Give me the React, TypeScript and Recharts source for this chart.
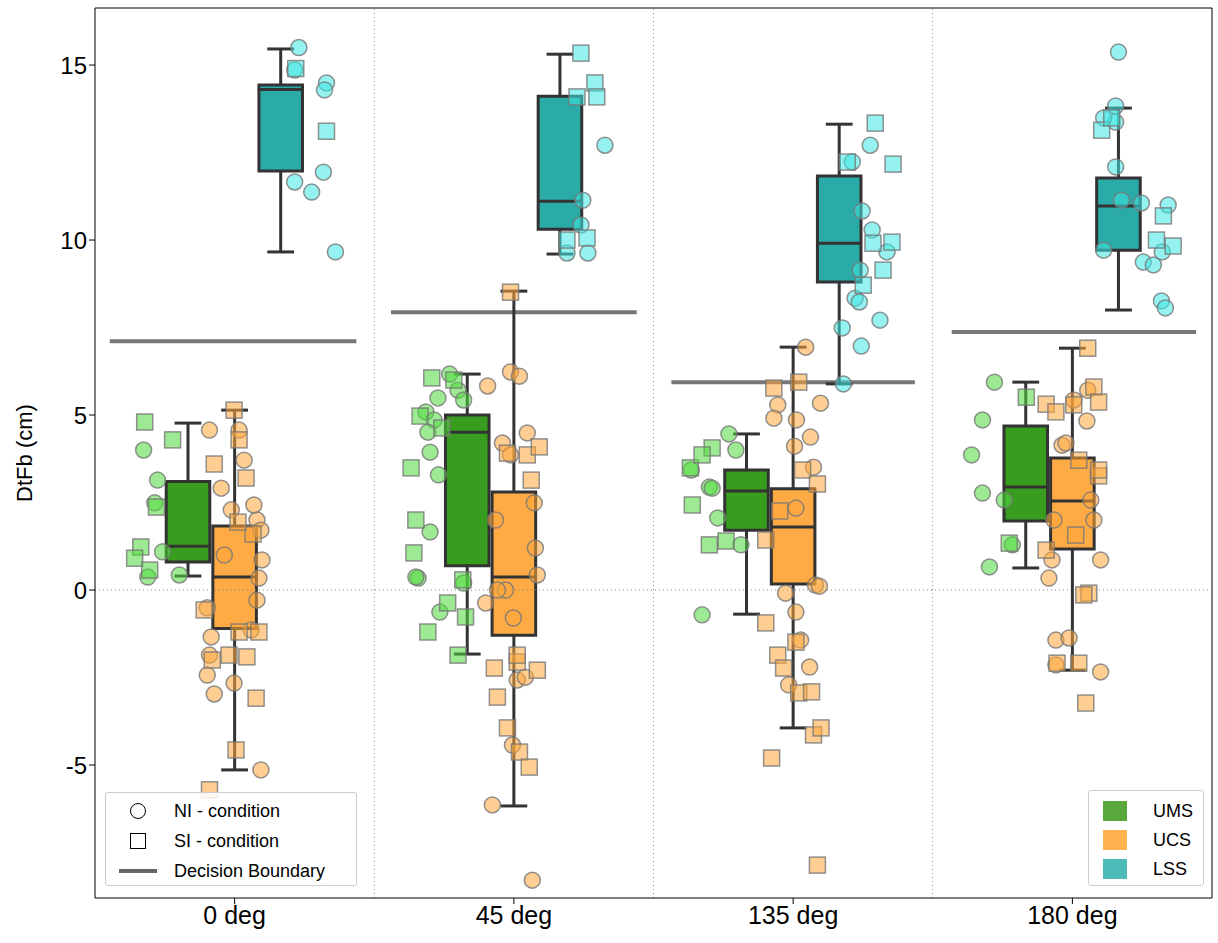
import React from "react";
import {
  ComposedChart,
  Scatter,
  XAxis,
  YAxis,
  ReferenceArea,
  ReferenceLine,
} from "recharts";

const CATEGORIES = ["0 deg", "45 deg", "135 deg", "180 deg"];
const Y_TICKS = [-5, 0, 5, 10, 15];
const Y_DOMAIN: [number, number] = [-8.8, 16.63];

// [x, y] pairs — NI = circles, SI = squares
const UMS_NI = [
  [0.174, 4.0], [0.224, 3.14], [0.242, 1.09], [0.189, 0.37], [0.302, 0.43], [0.214, 2.49],
  [1.185, 5.09], [1.214, 4.86], [1.192, 4.51], [1.228, 5.49], [1.27, 6.17], [1.3, 5.71], [1.2, 3.94],
  [1.23, 3.29], [1.157, 0.34], [1.2, 1.66], [1.235, -0.63], [1.32, 0.2], [1.149, 0.37], [1.32, 5.43],
  [2.27, 4.46], [2.135, 3.43], [2.2, 2.94], [2.21, 2.91], [2.23, 2.06], [2.313, 1.29], [2.174, -0.71], [2.295, 4.0],
  [3.221, 5.94], [3.178, 4.86], [3.139, 3.86], [3.178, 2.77], [3.256, 2.57], [3.203, 0.66], [3.285, 1.29],
];
const UMS_SI = [
  [0.178, 4.8], [0.278, 4.29], [0.22, 2.37], [0.164, 1.23], [0.142, 0.91], [0.196, 0.57],
  [1.206, 6.06], [1.164, 4.97], [1.132, 3.49], [1.149, 2.0], [1.142, 1.06], [1.263, -0.37], [1.192, -1.2],
  [1.3, -1.86], [1.327, -0.77], [1.285, 6.0], [1.242, 4.63], [1.317, 0.29],
  [2.132, 3.49], [2.21, 4.06], [2.174, 3.86], [2.139, 2.43], [2.2, 1.29], [2.26, 1.4],
  [3.335, 5.51], [3.274, 1.34],
];
const UCS_NI = [
  [0.41, 4.57], [0.516, 4.57], [0.452, 2.91], [0.534, 3.71], [0.58, 2.0], [0.594, 1.71], [0.463, 1.0],
  [0.598, 0.86], [0.587, 0.34], [0.402, -0.51], [0.416, -1.34], [0.41, -1.86], [0.402, -2.43], [0.427, -2.97],
  [0.498, -2.66], [0.594, -5.14], [0.58, -0.29], [0.559, -1.14], [0.488, 2.29], [0.569, 2.43],
  [1.406, 5.83], [1.488, 6.23], [1.52, 6.11], [1.459, 4.2], [1.488, 3.86], [1.548, 4.49], [1.399, -0.37],
  [1.423, -6.14], [1.498, -0.8], [1.512, -2.57], [1.541, -2.49], [1.495, -4.43], [1.566, -8.29], [1.434, 2.0],
  [1.577, 1.2], [1.573, 2.49], [1.47, 0], [1.584, 0.43], [1.441, 0],
  [2.545, 6.94], [2.445, 5.29], [2.512, 4.86], [2.431, 4.91], [2.505, 4.11], [2.562, 4.37], [2.598, 5.34],
  [2.573, 3.51], [2.473, -0.09], [2.51, -0.63], [2.527, -1.43], [2.559, -2.2], [2.484, -2.71], [2.58, 0.14],
  [2.594, 0.11], [2.51, 2.34],
  [3.555, 5.71], [3.505, 5.43], [3.463, 4.14], [3.477, 4.2], [3.552, 4.83], [3.427, 0.86], [3.416, 0.34],
  [3.441, -1.43], [3.488, -1.37], [3.441, -2.14], [3.601, -2.34], [3.601, 0.86], [3.577, 2.0], [3.566, 2.57],
  [3.434, 2.0],
];
const UCS_SI = [
  [0.498, 5.14], [0.427, 3.6], [0.541, 3.2], [0.566, 1.6], [0.512, 1.94], [0.391, -0.57], [0.42, -2.0],
  [0.48, -1.86], [0.544, -1.91], [0.516, -1.2], [0.587, -1.2], [0.577, -3.09], [0.505, -4.57], [0.41, -5.71],
  [0.516, 4.29],
  [1.488, 8.51], [1.477, 3.91], [1.548, 3.86], [1.591, 4.09], [1.562, 3.14], [1.43, -2.23], [1.441, -3.06],
  [1.477, -3.94], [1.512, -2.06], [1.52, -4.63], [1.555, -5.06], [1.584, -2.29], [1.512, -1.86],
  [2.431, 5.77], [2.52, 5.94], [2.402, 1.43], [2.452, 2.26], [2.534, 3.43], [2.587, 3.03], [2.402, -0.94],
  [2.445, -1.86], [2.51, -1.49], [2.52, -2.94], [2.566, -2.91], [2.573, -4.14], [2.6, -3.94], [2.423, -4.8],
  [2.587, -7.86], [2.466, -2.23],
  [3.555, 6.91], [3.406, 5.31], [3.441, 5.09], [3.505, 5.29], [3.577, 5.8], [3.594, 5.37], [3.523, 3.71],
  [3.594, 3.26], [3.406, 1.14], [3.445, -2.09], [3.523, -2.09], [3.548, -3.23], [3.559, -0.09], [3.512, 1.57],
  [3.541, -0.14], [3.594, 3.43],
];
const LSS_NI = [
  [0.73, 15.5], [0.715, 14.86], [0.829, 14.49], [0.822, 14.29], [0.715, 11.66], [0.776, 11.37], [0.818, 11.94],
  [0.861, 9.66],
  [1.69, 9.63], [1.765, 9.63], [1.826, 12.71], [1.74, 10.43], [1.747, 11.14],
  [2.712, 12.23], [2.776, 12.71], [2.747, 10.83], [2.783, 10.29], [2.836, 9.66], [2.722, 8.34], [2.737, 8.23],
  [2.811, 7.71], [2.676, 7.49], [2.744, 6.97], [2.68, 5.89], [2.74, 9.14],
  [3.665, 15.37], [3.655, 13.83], [3.655, 13.37], [3.655, 12.09], [3.612, 13.49], [3.676, 11.14], [3.747, 11.06],
  [3.843, 11.0], [3.612, 9.71], [3.754, 9.37], [3.79, 9.29], [3.822, 9.66], [3.819, 8.26], [3.833, 8.06],
];
const LSS_SI = [
  [0.719, 14.9], [0.829, 13.11],
  [1.74, 15.34], [1.79, 14.49], [1.726, 14.09], [1.797, 14.09], [1.762, 10.06], [1.69, 10.0],
  [2.794, 13.34], [2.858, 12.17], [2.786, 9.91], [2.854, 9.94], [2.822, 9.14], [2.751, 8.71], [2.694, 12.23],
  [3.605, 13.14], [3.641, 13.49], [3.826, 10.69], [3.801, 10.0], [3.861, 9.83],
];

// box stats per category: [q1, median, q3, whiskerLow, whiskerHigh]
const UMS_BOX = [
  [0.8, 1.25, 3.1, 0.4, 4.77],
  [0.69, 4.51, 5.0, -1.83, 6.17],
  [1.71, 2.83, 3.43, -0.69, 4.46],
  [1.97, 2.94, 4.69, 0.63, 5.94],
];
const UCS_BOX = [
  [-1.1, 0.37, 1.83, -5.14, 5.14],
  [-1.29, 0.37, 2.8, -6.17, 8.54],
  [0.17, 1.8, 2.89, -3.94, 6.94],
  [1.17, 2.54, 3.77, -2.29, 6.91],
];
const LSS_BOX = [
  [11.97, 14.3, 14.43, 9.66, 15.46],
  [10.31, 11.11, 14.11, 9.6, 15.31],
  [8.8, 9.91, 11.83, 5.89, 13.31],
  [9.71, 10.97, 11.77, 8.0, 13.77],
];
// decision boundary per category: [xStart, xEnd, y]
const BOUNDARY = [
  [0.053, 0.936, 7.11],
  [1.06, 1.94, 7.94],
  [2.064, 2.936, 5.94],
  [3.068, 3.943, 7.37],
];

const GROUPS = [
  { name: "UMS", box: UMS_BOX, offset: -0.167, fill: "#389c1e", pt: "#4fd83c", ni: UMS_NI, si: UMS_SI },
  { name: "UCS", box: UCS_BOX, offset: 0, fill: "#ffab45", pt: "#ffa53a", ni: UCS_NI, si: UCS_SI },
  { name: "LSS", box: LSS_BOX, offset: 0.165, fill: "#2aaba7", pt: "#3ee8e3", ni: LSS_NI, si: LSS_SI },
];

const BOX_HALF = 0.078;
const CAP_HALF = 0.048;
const EDGE = "#333333";
const FONT = "'Liberation Sans', Arial, sans-serif";

const toPts = (arr: number[][]) => arr.map(([x, y]) => ({ x, y }));

const circleShape = (color: string) => (p: any) => (
  <circle cx={p.cx} cy={p.cy} r={8} fill={color} fillOpacity={0.55} stroke="#777" strokeOpacity={0.8} strokeWidth={1.5} />
);
const squareShape = (color: string) => (p: any) => (
  <rect x={p.cx - 8} y={p.cy - 8} width={16} height={16} fill={color} fillOpacity={0.55} stroke="#777" strokeOpacity={0.8} strokeWidth={1.5} />
);

export default function App() {
  const boxEls: React.ReactNode[] = [];
  GROUPS.forEach((g) => {
    g.box.forEach(([q1, med, q3, lo, hi], i) => {
      const c = i + 0.5 + g.offset;
      const k = `${g.name}-${i}`;
      boxEls.push(
        <ReferenceLine key={k + "wl"} segment={[{ x: c, y: lo }, { x: c, y: q1 }]} stroke={EDGE} strokeWidth={3} ifOverflow="visible" />,
        <ReferenceLine key={k + "wh"} segment={[{ x: c, y: q3 }, { x: c, y: hi }]} stroke={EDGE} strokeWidth={3} ifOverflow="visible" />,
        <ReferenceLine key={k + "cl"} segment={[{ x: c - CAP_HALF, y: lo }, { x: c + CAP_HALF, y: lo }]} stroke={EDGE} strokeWidth={3} />,
        <ReferenceLine key={k + "ch"} segment={[{ x: c - CAP_HALF, y: hi }, { x: c + CAP_HALF, y: hi }]} stroke={EDGE} strokeWidth={3} />,
        <ReferenceArea key={k + "b"} x1={c - BOX_HALF} x2={c + BOX_HALF} y1={q1} y2={q3} fill={g.fill} fillOpacity={1} stroke={EDGE} strokeWidth={3} />,
        <ReferenceLine key={k + "m"} segment={[{ x: c - BOX_HALF, y: med }, { x: c + BOX_HALF, y: med }]} stroke={EDGE} strokeWidth={3} />
      );
    });
  });

  return (
    <div style={{ position: "absolute", left: 0, top: 0, width: 1218, height: 943, background: "#fff", fontFamily: FONT }}>
      <ComposedChart width={1218} height={943} margin={{ top: 8, right: 6, left: 0, bottom: 0 }}>
        <XAxis
          type="number"
          dataKey="x"
          domain={[0, 4]}
          ticks={[0.5, 1.5, 2.5, 3.5]}
          tickFormatter={(v) => CATEGORIES[Math.floor(v)]}
          height={45}
          stroke="#000"
          tick={{ fontSize: 25, fill: "#000", fontFamily: FONT }}
          tickSize={6}
        />
        <YAxis
          type="number"
          dataKey="y"
          domain={Y_DOMAIN}
          ticks={Y_TICKS}
          width={95}
          stroke="#000"
          allowDataOverflow
          tick={{ fontSize: 24, fill: "#000", fontFamily: FONT }}
          tickSize={6}
          label={{ value: "DtFb (cm)", angle: -90, position: "insideLeft", offset: 24, style: { fontSize: 22, fill: "#000", textAnchor: "middle", fontFamily: FONT } }}
        />
        <ReferenceLine y={Y_DOMAIN[1]} stroke="#000" strokeWidth={1} />
        <ReferenceLine x={4} stroke="#000" strokeWidth={1} />
        {[1, 2, 3].map((x) => (
          <ReferenceLine key={"sep" + x} x={x} stroke="#888" strokeDasharray="1 3" />
        ))}
        <ReferenceLine y={0} stroke="#888" strokeDasharray="1 3" />
        {BOUNDARY.map(([x1, x2, y], i) => (
          <ReferenceLine key={"db" + i} segment={[{ x: x1, y }, { x: x2, y }]} stroke="#777" strokeWidth={4} />
        ))}
        {boxEls}
        {GROUPS.map((g) => (
          <Scatter key={g.name + "ni"} data={toPts(g.ni)} shape={circleShape(g.pt)} isAnimationActive={false} />
        ))}
        {GROUPS.map((g) => (
          <Scatter key={g.name + "si"} data={toPts(g.si)} shape={squareShape(g.pt)} isAnimationActive={false} />
        ))}
      </ComposedChart>

      <div style={{ position: "absolute", left: 105, top: 792, width: 250, height: 92, border: "1px solid #ccc", borderRadius: 3, background: "rgba(255,255,255,0.85)", fontSize: 18 }}>
        {[
          { label: "NI - condition", icon: <div style={{ width: 14, height: 14, borderRadius: "50%", border: "1.5px solid #000" }} /> },
          { label: "SI - condition", icon: <div style={{ width: 14, height: 14, border: "1.5px solid #000" }} /> },
          { label: "Decision Boundary", icon: <div style={{ width: 38, height: 4, background: "#666" }} /> },
        ].map((r, i) => (
          <div key={i} style={{ position: "absolute", top: 6 + i * 30, left: 8, height: 24, display: "flex", alignItems: "center" }}>
            <div style={{ width: 48, display: "flex", justifyContent: "center" }}>{r.icon}</div>
            <span style={{ marginLeft: 12 }}>{r.label}</span>
          </div>
        ))}
      </div>

      <div style={{ position: "absolute", left: 1088, top: 790, width: 114, height: 94, border: "1px solid #ccc", borderRadius: 3, background: "rgba(255,255,255,0.85)", fontSize: 18 }}>
        {[
          { label: "UMS", color: "#5aa83c" },
          { label: "UCS", color: "#ffb24f" },
          { label: "LSS", color: "#4dbcb8" },
        ].map((r, i) => (
          <div key={i} style={{ position: "absolute", top: 8 + i * 29, left: 14, height: 24, display: "flex", alignItems: "center" }}>
            <div style={{ width: 24, height: 20, background: r.color }} />
            <span style={{ marginLeft: 26 }}>{r.label}</span>
          </div>
        ))}
      </div>
    </div>
  );
}
